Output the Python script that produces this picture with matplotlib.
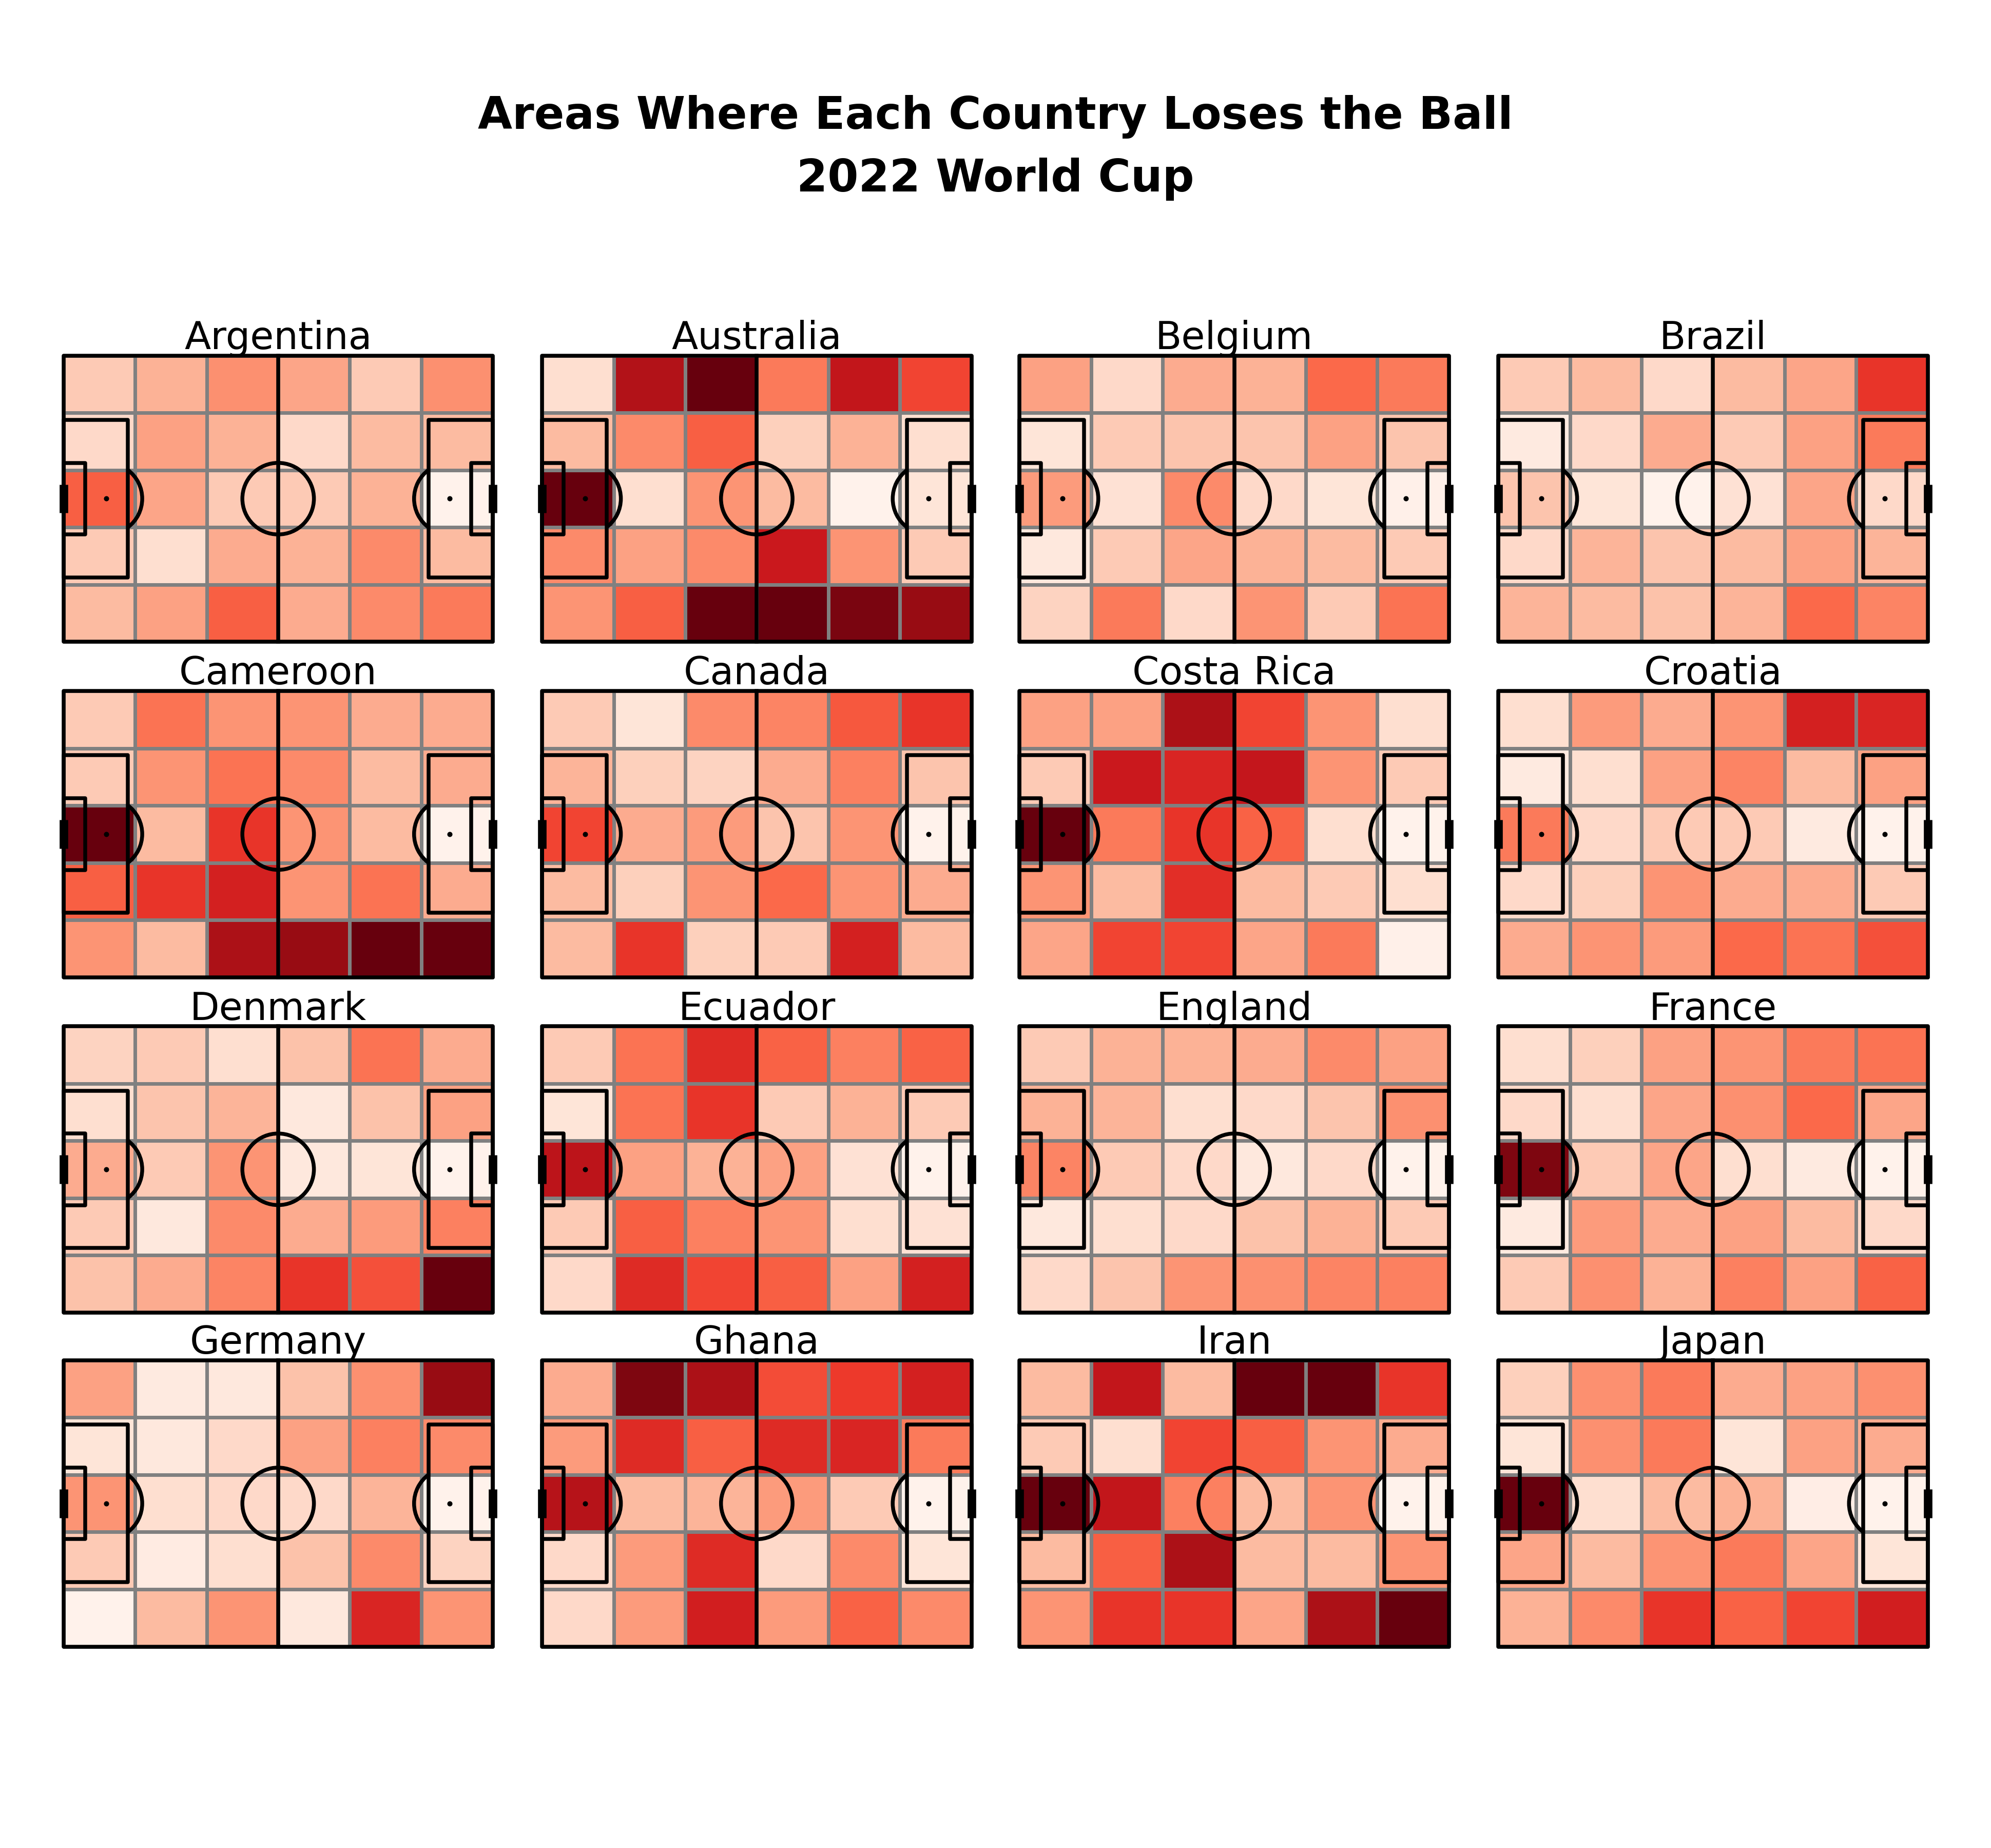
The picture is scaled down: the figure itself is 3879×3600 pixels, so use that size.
import matplotlib.pyplot as plt
import numpy as np
from matplotlib.patches import Rectangle, Circle, Arc

# share of possession losses per zone (rows top->bottom, cols left->right)
countries = ['Argentina', 'Australia', 'Belgium', 'Brazil',
             'Cameroon', 'Canada', 'Costa Rica', 'Croatia',
             'Denmark', 'Ecuador', 'England', 'France',
             'Germany', 'Ghana', 'Iran', 'Japan']

argentina = [[0.20, 0.28, 0.38, 0.32, 0.20, 0.38],
             [0.15, 0.33, 0.28, 0.15, 0.25, 0.25],
             [0.53, 0.32, 0.20, 0.20, 0.28, 0.02],
             [0.20, 0.13, 0.30, 0.28, 0.40, 0.25],
             [0.25, 0.33, 0.53, 0.30, 0.40, 0.45]]
australia = [[0.13, 0.83, 1.00, 0.45, 0.78, 0.60],
             [0.25, 0.40, 0.53, 0.18, 0.28, 0.13],
             [1.00, 0.13, 0.37, 0.25, 0.02, 0.10],
             [0.40, 0.33, 0.40, 0.75, 0.37, 0.20],
             [0.37, 0.53, 1.00, 1.00, 0.96, 0.90]]
belgium = [[0.33, 0.15, 0.30, 0.28, 0.50, 0.45],
           [0.10, 0.20, 0.22, 0.22, 0.33, 0.22],
           [0.35, 0.12, 0.40, 0.15, 0.10, 0.03],
           [0.08, 0.20, 0.32, 0.28, 0.25, 0.20],
           [0.17, 0.45, 0.15, 0.37, 0.20, 0.47]]
brazil = [[0.20, 0.25, 0.15, 0.25, 0.32, 0.65],
          [0.07, 0.15, 0.30, 0.20, 0.33, 0.45],
          [0.22, 0.10, 0.02, 0.12, 0.32, 0.15],
          [0.15, 0.27, 0.22, 0.25, 0.33, 0.27],
          [0.27, 0.25, 0.23, 0.27, 0.50, 0.42]]
cameroon = [[0.20, 0.47, 0.37, 0.37, 0.30, 0.30],
            [0.20, 0.37, 0.47, 0.40, 0.25, 0.30],
            [1.00, 0.25, 0.65, 0.37, 0.25, 0.02],
            [0.53, 0.65, 0.72, 0.37, 0.47, 0.30],
            [0.37, 0.25, 0.85, 0.90, 1.00, 1.00]]
canada = [[0.20, 0.10, 0.40, 0.42, 0.55, 0.65],
          [0.27, 0.18, 0.17, 0.30, 0.43, 0.22],
          [0.60, 0.30, 0.35, 0.22, 0.37, 0.02],
          [0.25, 0.18, 0.37, 0.50, 0.37, 0.30],
          [0.25, 0.65, 0.18, 0.20, 0.72, 0.25]]
costa_rica = [[0.33, 0.33, 0.85, 0.60, 0.37, 0.13],
              [0.20, 0.75, 0.70, 0.77, 0.37, 0.20],
              [1.00, 0.45, 0.65, 0.52, 0.13, 0.02],
              [0.37, 0.25, 0.67, 0.25, 0.20, 0.13],
              [0.32, 0.60, 0.60, 0.32, 0.45, 0.03]]
croatia = [[0.13, 0.35, 0.30, 0.37, 0.72, 0.70],
           [0.07, 0.13, 0.33, 0.42, 0.25, 0.33],
           [0.45, 0.15, 0.20, 0.20, 0.07, 0.02],
           [0.15, 0.18, 0.37, 0.30, 0.30, 0.20],
           [0.30, 0.37, 0.35, 0.50, 0.47, 0.57]]
denmark = [[0.17, 0.20, 0.13, 0.23, 0.47, 0.30],
           [0.13, 0.22, 0.27, 0.08, 0.23, 0.33],
           [0.30, 0.20, 0.37, 0.08, 0.10, 0.02],
           [0.20, 0.08, 0.40, 0.30, 0.35, 0.43],
           [0.23, 0.30, 0.42, 0.65, 0.57, 1.00]]
ecuador = [[0.20, 0.47, 0.68, 0.52, 0.43, 0.52],
           [0.10, 0.47, 0.65, 0.20, 0.28, 0.20],
           [0.80, 0.33, 0.28, 0.33, 0.12, 0.02],
           [0.20, 0.53, 0.43, 0.37, 0.13, 0.12],
           [0.15, 0.68, 0.60, 0.53, 0.33, 0.72]]
england = [[0.20, 0.28, 0.28, 0.30, 0.40, 0.33],
           [0.28, 0.27, 0.13, 0.15, 0.22, 0.38],
           [0.42, 0.20, 0.15, 0.08, 0.15, 0.02],
           [0.08, 0.13, 0.15, 0.23, 0.28, 0.20],
           [0.15, 0.22, 0.37, 0.38, 0.42, 0.43]]
france = [[0.13, 0.18, 0.33, 0.37, 0.45, 0.47],
          [0.15, 0.13, 0.32, 0.38, 0.50, 0.32],
          [0.95, 0.20, 0.32, 0.13, 0.07, 0.02],
          [0.07, 0.35, 0.30, 0.33, 0.25, 0.15],
          [0.20, 0.38, 0.28, 0.43, 0.33, 0.52]]
germany = [[0.33, 0.07, 0.08, 0.23, 0.38, 0.90],
           [0.10, 0.08, 0.15, 0.33, 0.43, 0.40],
           [0.37, 0.13, 0.15, 0.15, 0.27, 0.02],
           [0.20, 0.06, 0.13, 0.23, 0.40, 0.17],
           [0.02, 0.25, 0.37, 0.08, 0.70, 0.37]]
ghana = [[0.30, 0.95, 0.85, 0.58, 0.63, 0.72],
         [0.35, 0.68, 0.53, 0.68, 0.70, 0.45],
         [0.82, 0.25, 0.27, 0.35, 0.20, 0.02],
         [0.15, 0.35, 0.68, 0.15, 0.40, 0.10],
         [0.15, 0.35, 0.73, 0.35, 0.52, 0.40]]
iran = [[0.25, 0.78, 0.25, 1.00, 1.00, 0.65],
        [0.20, 0.13, 0.60, 0.53, 0.37, 0.30],
        [1.00, 0.78, 0.43, 0.25, 0.37, 0.02],
        [0.25, 0.53, 0.85, 0.25, 0.25, 0.37],
        [0.37, 0.65, 0.65, 0.32, 0.85, 1.00]]
japan = [[0.18, 0.38, 0.45, 0.30, 0.33, 0.38],
         [0.10, 0.38, 0.45, 0.10, 0.33, 0.30],
         [1.00, 0.13, 0.25, 0.28, 0.05, 0.02],
         [0.32, 0.25, 0.37, 0.45, 0.32, 0.10],
         [0.28, 0.40, 0.65, 0.52, 0.60, 0.73]]

grids = [argentina, australia, belgium, brazil,
         cameroon, canada, costa_rica, croatia,
         denmark, ecuador, england, france,
         germany, ghana, iran, japan]

x_edges = np.linspace(0, 120, 7)
y_edges = np.linspace(0, 80, 6)


def draw_pitch(ax):
    lw = 1.8
    kw = dict(fill=False, ec='black', lw=lw, zorder=3, joinstyle='round')
    ax.add_patch(Rectangle((0, 0), 120, 80, **kw))
    ax.plot([60, 60], [0, 80], color='black', lw=lw, zorder=3)
    ax.add_patch(Circle((60, 40), 10, **kw))
    # penalty and six yard boxes
    ax.add_patch(Rectangle((0, 18), 18, 44, **kw))
    ax.add_patch(Rectangle((102, 18), 18, 44, **kw))
    ax.add_patch(Rectangle((0, 30), 6, 20, **kw))
    ax.add_patch(Rectangle((114, 30), 6, 20, **kw))
    # penalty arcs
    ang = np.degrees(np.arccos(6 / 10))
    ax.add_patch(Arc((12, 40), 20, 20, theta1=-ang, theta2=ang,
                     color='black', lw=lw, zorder=3))
    ax.add_patch(Arc((108, 40), 20, 20, theta1=180 - ang, theta2=180 + ang,
                     color='black', lw=lw, zorder=3))
    ax.scatter([12, 108], [40, 40], s=2, color='black', zorder=4)
    # goals
    ax.plot([0, 0], [36, 44], color='black', lw=4, zorder=4,
            solid_capstyle='butt')
    ax.plot([120, 120], [36, 44], color='black', lw=4, zorder=4,
            solid_capstyle='butt')


fig = plt.figure(figsize=(12.93, 12), dpi=300)

lefts = [0.0319, 0.2723, 0.5121, 0.7526]
tops = [0.1924, 0.3739, 0.5553, 0.7361]
pw = 0.2156
s = pw * 12.93 / 120  # inches per pitch unit
pad = 1.5
aw = (120 + 2 * pad) * s / 12.93
ah = (80 + 2 * pad) * s / 12.0

for i, (name, g) in enumerate(zip(countries, grids)):
    r, c = divmod(i, 4)
    left = lefts[c] - pad * s / 12.93
    top = 1 - tops[r] + pad * s / 12.0
    ax = fig.add_axes([left, top - ah, aw, ah])
    ax.pcolormesh(x_edges, y_edges, np.array(g), cmap='Reds', vmin=0, vmax=1,
                  edgecolors='grey', linewidth=1.3, zorder=1)
    draw_pitch(ax)
    ax.set_xlim(-pad, 120 + pad)
    ax.set_ylim(80 + pad, -pad)
    ax.axis('off')
    ax.text(60, -1.8, name, ha='center', va='baseline', fontsize=18,
            color='black', clip_on=False)

fig.text(0.5, 0.920, 'Areas Where Each Country Loses the Ball\n2022 World Cup',
         ha='center', va='center', fontsize=20.8, fontweight='bold',
         linespacing=1.55)

fig.savefig('out.png', dpi=300, facecolor='white')
